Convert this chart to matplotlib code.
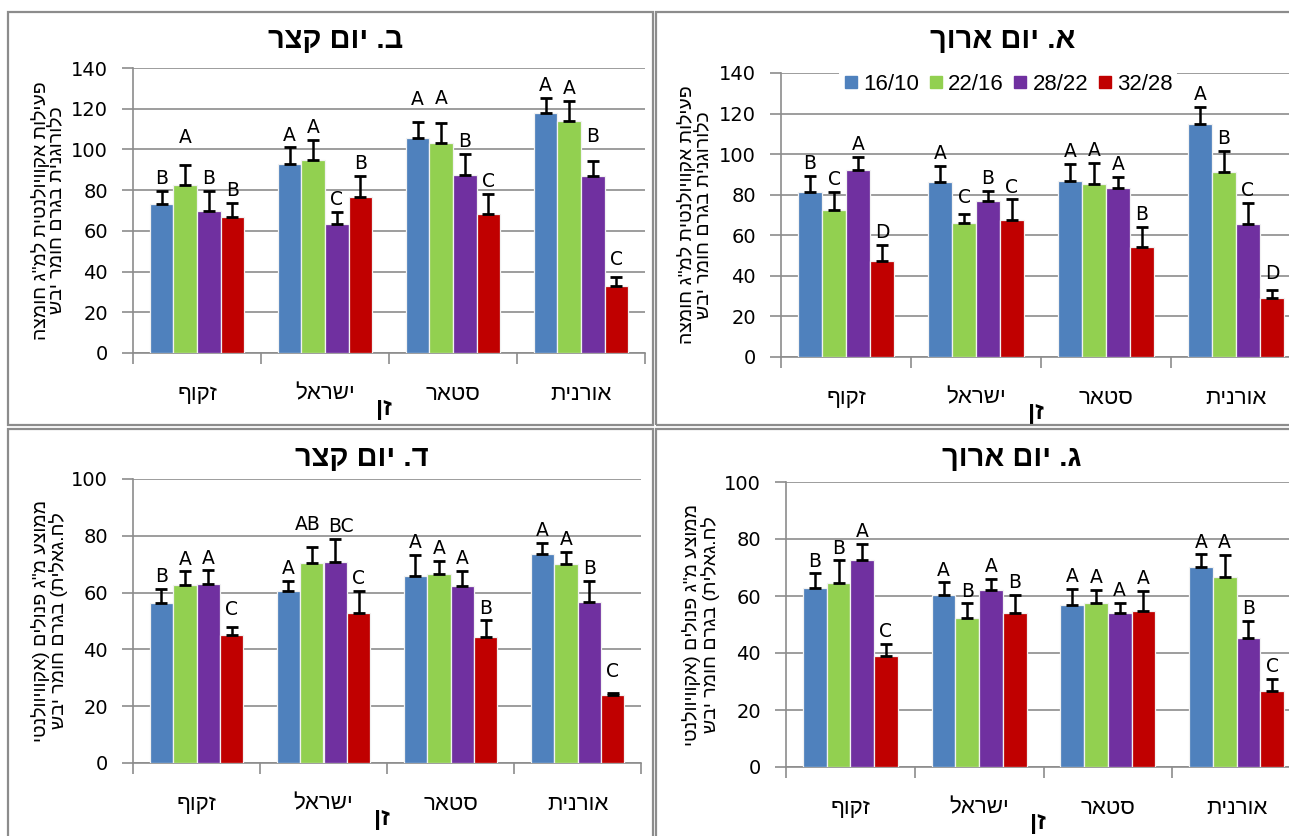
import matplotlib
matplotlib.use("Agg")
import matplotlib.pyplot as plt
import numpy as np
from matplotlib.lines import Line2D
from matplotlib.patches import Rectangle

plt.rcParams['font.family'] = ['Liberation Sans', 'DejaVu Sans']


def heb(s):
    # matplotlib has no bidi support: lay Hebrew out in visual order
    return s[::-1].translate(str.maketrans('()', ')('))


# --- data ---
cultivars = ['זקוף', 'ישראל', 'סטאר', 'אורנית']
regimes = ['16/10', '22/16', '28/22', '32/28']
colors = ['#4F81BD', '#92D050', '#7030A0', '#C00000']

# rows = cultivar, columns = temperature regime
chl_short_mean = [[73.1, 82.5, 69.8, 66.9], [93.0, 94.6, 63.6, 76.4],
                  [105.6, 103.4, 87.4, 68.5], [117.7, 113.9, 86.9, 33.1]]
chl_short_err = [[6.6, 10.0, 10.0, 7.0], [8.0, 10.0, 5.6, 10.6],
                 [8.0, 9.6, 10.6, 9.7], [7.7, 10.0, 7.2, 4.0]]
chl_short_sig = [['B', 'A', 'B', 'B'], ['A', 'A', 'C', 'B'],
                 ['A', 'A', 'B', 'C'], ['A', 'A', 'B', 'C']]

chl_long_mean = [[81.2, 72.5, 92.3, 47.5], [86.3, 65.9, 76.9, 67.4],
                 [86.8, 85.3, 83.5, 54.1], [115.0, 91.2, 65.7, 29.2]]
chl_long_err = [[8.0, 8.8, 6.3, 7.7], [7.8, 4.4, 4.9, 10.3],
                [8.5, 10.3, 5.2, 10.0], [8.4, 10.3, 10.2, 4.0]]
chl_long_sig = [['B', 'C', 'A', 'D'], ['A', 'C', 'B', 'C'],
                ['A', 'A', 'A', 'B'], ['A', 'B', 'C', 'D']]

phen_short_mean = [[56.3, 62.8, 63.1, 45.2], [60.7, 70.3, 70.7, 52.8],
                   [66.0, 66.7, 62.3, 44.5], [73.7, 70.0, 56.7, 23.9]]
phen_short_err = [[5.0, 4.7, 4.7, 2.7], [3.4, 5.8, 8.3, 7.9],
                  [7.4, 4.5, 5.4, 5.7], [3.8, 4.2, 7.4, 0.7]]
phen_short_sig = [['B', 'A', 'A', 'C'], ['A', 'AB', 'BC', 'C'],
                  ['A', 'A', 'A', 'B'], ['A', 'A', 'B', 'C']]

phen_long_mean = [[62.9, 64.5, 72.8, 38.8], [60.5, 52.2, 62.2, 53.9],
                  [57.0, 57.5, 53.9, 54.9], [70.1, 66.5, 45.4, 26.5]]
phen_long_err = [[5.0, 8.0, 5.4, 4.5], [4.3, 5.2, 3.7, 6.6],
                 [5.4, 4.6, 3.8, 6.9], [4.5, 7.9, 6.0, 4.5]]
phen_long_sig = [['B', 'B', 'A', 'C'], ['A', 'B', 'A', 'B'],
                 ['A', 'A', 'A', 'A'], ['A', 'A', 'B', 'C']]

chl_ylabel = 'פעילות אקוויולנטית למ"ג חומצה\nכלורוגנית בגרם חומר יבש'
phen_ylabel = 'ממוצע מ"ג פנולים (אקוויוולנטי\nלח.גאלית) בגרם חומר יבש'

# offsets (points) for significance letters that sit away from the usual
# spot, keyed by (cultivar, regime) -> (dx, dy)
shift_b = {(0, 1): (0, 11), (2, 0): (0, 7), (2, 1): (0, 9), (3, 2): (0, 9),
           (3, 3): (0, 4)}
shift_a = {(1, 1): (0, 3), (3, 3): (0, 3)}
shift_d = {(1, 1): (-3, 7), (1, 2): (4, 0), (3, 3): (0, 7), (0, 3): (0, 4)}
shift_g = {}

W, H = 1289, 836
fig = plt.figure(figsize=(W / 100, H / 100), dpi=100)
GRID = '#8C8C8C'


def px_axes(x0, x1, y0, y1):
    # axes from pixel extents (x0..x1 left-right, y0 top .. y1 bottom)
    return fig.add_axes([x0 / W, 1 - y1 / H, (x1 - x0) / W, (y1 - y0) / H])


def panel(ax, mean, err, sig, shift, ymax, ylabel):
    mean = np.array(mean).T
    err = np.array(err).T
    x = np.arange(len(cultivars)) + 0.5
    w = 0.184
    for i in range(len(regimes)):
        xi = x + (i - 1.5) * w
        ax.bar(xi, mean[i], w, color=colors[i], edgecolor='#F2F2F2', lw=0.9,
               zorder=3, label=regimes[i])
        ax.errorbar(xi, mean[i], yerr=[np.zeros(4), err[i]], fmt='none',
                    ecolor='black', elinewidth=1.8, capsize=4, capthick=2,
                    zorder=4)
        for j in range(len(cultivars)):
            dx, dy = shift.get((j, i), (0, 0))
            ax.annotate(sig[j][i], (xi[j], mean[i][j] + err[i][j]),
                        xytext=(dx, 2 + dy),
                        textcoords='offset points', ha='center', va='bottom',
                        fontsize=13.5, family='DejaVu Sans', zorder=5)
    ax.set_xlim(0, len(cultivars))
    ax.set_ylim(0, ymax)
    ax.set_yticks(np.arange(0, ymax + 1, 20))
    for lab in ax.get_yticklabels():
        lab.set_family('DejaVu Sans')
    ax.set_xticks(x)
    ax.set_xticklabels([heb(c) for c in cultivars], fontsize=16)
    ax.set_xticks(np.arange(len(cultivars) + 1), minor=True)
    ax.tick_params(axis='x', which='major', length=0, pad=22)
    ax.tick_params(axis='x', which='minor', length=8, color=GRID, width=1.2)
    ax.tick_params(axis='y', length=8, color=GRID, width=1.2, labelsize=14,
                   pad=10)
    ax.yaxis.grid(True, color=GRID, lw=1.2, zorder=0)
    ax.set_axisbelow(True)
    for s in ['top', 'right']:
        ax.spines[s].set_visible(False)
    for s in ['left', 'bottom']:
        ax.spines[s].set_color(GRID)
        ax.spines[s].set_linewidth(1.2)
    ax.annotate(heb('זן'), (0.49, 0), xycoords='axes fraction',
                xytext=(0, -40), textcoords='offset points', ha='center',
                va='center', fontsize=17, fontweight='bold')
    lines = [heb(t) for t in ylabel.split('\n')]
    ax.text(-0.165, 0.5, '\n'.join(lines), transform=ax.transAxes,
            rotation=90, ha='center', va='center', multialignment='center',
            fontsize=14, linespacing=0.95)


ax_b = px_axes(133, 645, 68, 353)
panel(ax_b, chl_short_mean, chl_short_err, chl_short_sig, shift_b, 140,
      chl_ylabel)
ax_a = px_axes(781, 1301, 73, 357)
panel(ax_a, chl_long_mean, chl_long_err, chl_long_sig, shift_a, 140,
      chl_ylabel)
ax_d = px_axes(133, 641, 479, 763)
panel(ax_d, phen_short_mean, phen_short_err, phen_short_sig, shift_d, 100,
      phen_ylabel)
ax_g = px_axes(786, 1301, 482, 767)
panel(ax_g, phen_long_mean, phen_long_err, phen_long_sig, shift_g, 100,
      phen_ylabel)

# panel titles
titles = [('ב. יום קצר', 336, 40), ('א. יום ארוך', 1003, 40),
          ('ד. יום קצר', 362, 458), ('ג. יום ארוך', 1012, 458)]
for t, tx, ty in titles:
    fig.text(tx / W, 1 - ty / H, heb(t), ha='center', va='center',
             fontsize=21, fontweight='bold')

# legend of temperature regimes
handles = [Line2D([], [], marker='s', ls='none', color=c, markersize=8)
           for c in colors]
leg = fig.legend(handles, regimes, ncol=4, loc='center',
                 bbox_to_anchor=(1008 / W, 1 - 84 / H), frameon=True,
                 fontsize=16, handlelength=0.7, handletextpad=0.2,
                 columnspacing=0.4, borderpad=0.2)
leg.get_frame().set_facecolor('white')
leg.get_frame().set_edgecolor('none')
leg.get_frame().set_alpha(1)

# panel frames
for x0, y0, x1, y1 in [(8, 12, 653, 425), (656, 12, 1360, 425),
                       (8, 429, 653, 900), (656, 429, 1360, 900)]:
    fig.add_artist(Rectangle((x0 / W, 1 - y1 / H), (x1 - x0) / W,
                             (y1 - y0) / H, transform=fig.transFigure,
                             fill=False, ec='#8C8C8C', lw=1.6))

fig.savefig('out.png', dpi=100)
